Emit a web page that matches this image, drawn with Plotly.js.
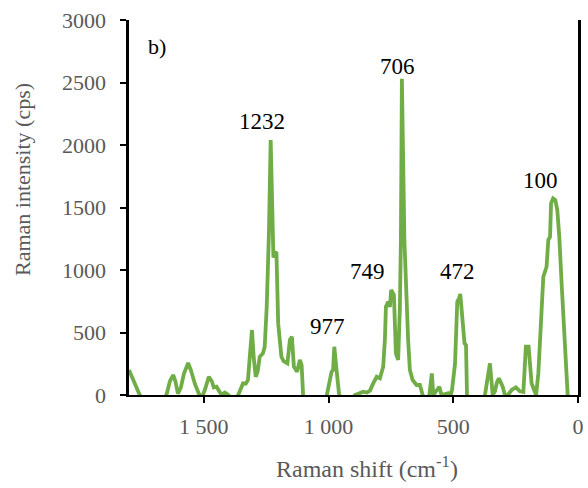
<!DOCTYPE html>
<html>
<head>
<meta charset="utf-8">
<script src="https://cdn.plot.ly/plotly-3.0.1.min.js"></script>
<style>
  html, body { margin: 0; padding: 0; background: #ffffff; }
  #chart { width: 588px; height: 488px; }
</style>
</head>
<body>
<div id="chart"></div>
<script>
// Raman spectrum, b): shift (cm-1) vs intensity (cps)
const ramanShift = [
  1800, 1781, 1757, 1737, 1665, 1650, 1636, 1623, 1614, 1604, 1592, 1580, 1563, 1552, 1536,
  1520, 1508, 1496, 1480, 1468, 1460, 1449, 1440, 1429, 1416, 1404, 1388, 1372, 1362, 1351,
  1343, 1332, 1323, 1316, 1307, 1300, 1292, 1284, 1276, 1263, 1256, 1248, 1239, 1232, 1225,
  1221, 1215, 1209, 1202, 1195, 1189, 1180, 1165, 1155, 1147, 1139, 1126, 1115, 1108, 1102,
  1095, 1015, 1006, 995, 988, 982, 977, 968, 958, 947, 915, 894, 882, 874, 861,
  846, 834, 821, 807, 794, 781, 774, 770, 761, 754, 749, 738, 730, 721, 714,
  710, 706, 700, 696, 681, 674, 663, 647, 634, 623, 614, 596, 586, 580, 567,
  556, 547, 533, 520, 511, 505, 493, 484, 477, 472, 463, 455, 449, 445, 433,
  381, 373, 365, 353, 342, 333, 325, 317, 302, 293, 285, 276, 266, 249, 233,
  219, 209, 198, 193, 186, 176, 168, 159, 146, 139, 126, 119, 112, 108, 100,
  91, 83, 75, 65, 56, 45, 43, 40
];
const intensity = [
  200, 110, 0, -60, -40, 0, 110, 160, 110, 10, 60, 170, 256, 200, 90,
  10, -20, 40, 146, 110, 60, 66, 30, 0, 20, 5, -30, -20, 0, 60,
  93, 90, 120, 300, 520, 300, 146, 190, 306, 333, 386, 700, 1300, 2040, 1500,
  1100, 1130, 1146, 573, 400, 306, 270, 253, 440, 466, 226, 186, 280, 240, 0,
  -80, -80, 0, 120, 186, 200, 386, 200, 10, -60, -60, 0, 10, 10, 26,
  20, 35, 93, 146, 133, 226, 450, 706, 746, 706, 840, 800, 333, 280, 706,
  1240, 2530, 1500, 1240, 440, 200, 120, 80, 80, 0, -60, 0, 173, 0, 30,
  66, 0, 5, 15, -10, 40, 250, 746, 773, 808, 600, 413, 400, 0, -80,
  -40, 0, 100, 253, 0, 30, 100, 133, 66, 0, -10, 10, 40, 61, 30,
  25, 386, 386, 226, 93, 40, 0, 173, 706, 946, 1026, 1240, 1266, 1533, 1573,
  1560, 1480, 1266, 866, 520, 173, 0, -50
];

// Peak labels: text and where each label sits
const peakText = ["1232", "977", "749", "706", "472", "100"];
const peakLabelX = [1267, 1003, 844, 722, 483, 152];
const peakLabelY = [2185, 545, 985, 2625, 985, 1720];

const xTickVals = [1500, 1000, 500, 0];
const xTickText = ["1 500", "1 000", "500", "0"];
const yTickVals = [0, 500, 1000, 1500, 2000, 2500, 3000];

const grey = "#595959";
const serif = "Liberation Serif";

const trace = {
  x: ramanShift,
  y: intensity,
  type: "scatter",
  mode: "lines",
  line: { color: "#70AD47", width: 3.8 },
  hoverinfo: "x+y"
};

const annotations = peakText.map((t, i) => ({
  x: peakLabelX[i], y: peakLabelY[i], xref: "x", yref: "y",
  text: t, showarrow: false, xanchor: "center", yanchor: "middle",
  font: { family: serif, size: 23, color: "#000000" }
}));

annotations.push({
  x: 1730, y: 2790, xref: "x", yref: "y", text: "b)", showarrow: false,
  xanchor: "left", yanchor: "middle",
  font: { family: serif, size: 22, color: "#000000" }
});

// Axis titles, placed on the chart area
annotations.push({
  x: 367, y: 467, xref: "paper", yref: "paper", text: "Raman shift (cm<sup>-1</sup>)",
  showarrow: false, xanchor: "center", yanchor: "middle",
  font: { family: serif, size: 24, color: grey }
});
annotations.push({
  x: 22, y: 180, xref: "paper", yref: "paper", text: "Raman intensity (cps)",
  textangle: -90, showarrow: false, xanchor: "center", yanchor: "middle",
  font: { family: serif, size: 22, color: grey }
});

// convert pixel spots to paper fractions for the title annotations
const W = 588, H = 488, L = 129, R = 10, T = 20, B = 93;
const pw = W - L - R, ph = H - T - B;
annotations.slice(-2).forEach(a => {
  a.x = (a.x - L) / pw;
  a.y = (H - B - a.y) / ph;
});

const layout = {
  width: W,
  height: H,
  margin: { l: L, r: R, t: T, b: B, pad: 0 },
  paper_bgcolor: "#ffffff",
  plot_bgcolor: "#ffffff",
  showlegend: false,
  font: { family: serif },
  xaxis: {
    range: [1800, 0],
    tickmode: "array",
    tickvals: xTickVals,
    ticktext: xTickText,
    ticks: "outside",
    ticklen: 6,
    tickwidth: 2,
    tickcolor: "#000000",
    showline: true,
    linecolor: "#000000",
    linewidth: 2.2,
    showgrid: false,
    zeroline: false,
    ticklabelstandoff: 4,
    tickfont: { family: serif, size: 22, color: grey }
  },
  yaxis: {
    range: [0, 3000],
    tickmode: "array",
    tickvals: yTickVals,
    ticks: "outside",
    ticklen: 6,
    tickwidth: 2,
    tickcolor: "#000000",
    showline: true,
    mirror: true,
    linecolor: "#000000",
    linewidth: 2.6,
    showgrid: false,
    zeroline: false,
    ticklabelstandoff: 10,
    tickfont: { family: serif, size: 22, color: grey }
  },
  annotations: annotations
};

Plotly.newPlot("chart", [trace], layout, { displayModeBar: false, staticPlot: true });
</script>
</body>
</html>
